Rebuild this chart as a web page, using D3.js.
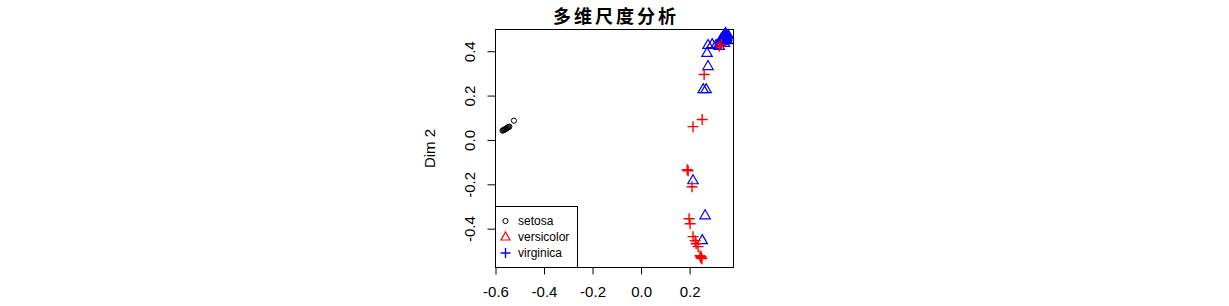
<!DOCTYPE html>
<html>
<head>
<meta charset="utf-8">
<script src="https://cdn.jsdelivr.net/npm/d3@7/dist/d3.min.js"></script>
<style>
  body { margin: 0; background: #fff; }
  svg text { font-family: "Liberation Sans", Arial, sans-serif; }
</style>
</head>
<body>
<div id="chart"></div>
<script>
// MDS coordinates
const species = ['setosa', 'versicolor', 'virginica'];
const legendColors = ['#000000', '#ff0000', '#0000ff'];

const setosaX = [-0.571, -0.568, -0.565, -0.562, -0.559, -0.556, -0.553, -0.550, -0.547, -0.543, -0.524];
const setosaY = [0.042, 0.044, 0.046, 0.047, 0.049, 0.051, 0.053, 0.056, 0.058, 0.060, 0.087];

// triangles (drawn blue)
const triX = [0.334, 0.342, 0.346, 0.351, 0.355, 0.338, 0.326, 0.359, 0.330, 0.349, 0.344, 0.353,
              0.348, 0.356, 0.340, 0.352,
              0.276, 0.293, 0.309, 0.322, 0.272, 0.276, 0.256, 0.268, 0.214, 0.264, 0.252];
const triY = [0.457, 0.462, 0.466, 0.457, 0.448, 0.444, 0.439, 0.471, 0.453, 0.475, 0.435, 0.462,
              0.480, 0.470, 0.468, 0.452,
              0.426, 0.430, 0.426, 0.422, 0.390, 0.331, 0.227, 0.227, -0.184, -0.342, -0.454];

// crosses (drawn red)
const crossX = [0.322, 0.330, 0.260, 0.252, 0.214, 0.190, 0.194, 0.210, 0.198, 0.202,
                0.214, 0.223, 0.227, 0.235, 0.243, 0.247, 0.247, 0.251];
const crossY = [0.422, 0.430, 0.295, 0.092, 0.060, -0.134, -0.139, -0.211, -0.355, -0.378,
                -0.436, -0.454, -0.468, -0.481, -0.522, -0.526, -0.531, -0.535];

const xTicks = [-0.6, -0.4, -0.2, 0.0, 0.2];
const yTicks = [-0.4, -0.2, 0.0, 0.2, 0.4];
const xLim = [-0.6, 0.381];
const yLim = [-0.575, 0.498];

const width = 1229, height = 306;
const plot = {left: 495.5, right: 733.5, top: 29.5, bottom: 267.5};

let svg = d3.select('#chart').append('svg')
    .attr('width', width).attr('height', height);

let x = d3.scaleLinear().domain(xLim).range([plot.left, plot.right]);
let y = d3.scaleLinear().domain(yLim).range([plot.bottom, plot.top]);

// title
svg.append('text')
    .attr('x', (plot.left + plot.right) / 2 + 1.5).attr('y', 23)
    .attr('text-anchor', 'middle')
    .style('font-family', '"Noto Sans CJK SC", sans-serif')
    .style('font-weight', 'bold').style('font-size', '18px')
    .style('letter-spacing', '3px')
    .text('多维尺度分析');

// axes
let xAxis = svg.append('g')
    .attr('transform', `translate(0,${plot.bottom})`)
    .call(d3.axisBottom(x).tickValues(xTicks).tickFormat(d3.format('.1f')).tickSizeOuter(0).tickSize(7).tickPadding(12));
let yAxis = svg.append('g')
    .attr('transform', `translate(${plot.left},0)`)
    .call(d3.axisLeft(y).tickValues(yTicks).tickFormat(d3.format('.1f')).tickSizeOuter(0).tickSize(8));

[xAxis, yAxis].forEach(a => {
    a.select('.domain').remove();
    a.selectAll('line').attr('stroke', '#000');
    a.selectAll('text').style('font-size', '15px').attr('fill', '#000');
});
xAxis.selectAll('text').text(d => d3.format('.1f')(d).replace('−', '-'));
yAxis.selectAll('text')
    .text(d => d3.format('.1f')(d).replace('−', '-'))
    .attr('text-anchor', 'middle')
    .attr('dy', null).attr('x', null)
    .attr('transform', d => `translate(-21,0) rotate(-90)`);

// axis lines spanning first to last tick
svg.append('line')
    .attr('x1', x(xTicks[0])).attr('x2', x(xTicks[xTicks.length - 1]))
    .attr('y1', plot.bottom).attr('y2', plot.bottom).attr('stroke', '#000');
svg.append('line')
    .attr('y1', y(yTicks[0])).attr('y2', y(yTicks[yTicks.length - 1]))
    .attr('x1', plot.left).attr('x2', plot.left).attr('stroke', '#000');

// y label
svg.append('text')
    .attr('transform', `translate(435,${(plot.top + plot.bottom) / 2}) rotate(-90)`)
    .attr('text-anchor', 'middle')
    .style('font-size', '15px')
    .text('Dim 2');

// box
svg.append('rect')
    .attr('x', plot.left).attr('y', plot.top)
    .attr('width', plot.right - plot.left).attr('height', plot.bottom - plot.top)
    .attr('fill', 'none').attr('stroke', '#000');

let pts = svg.append('g');

// setosa circles
pts.selectAll('.setosa')
    .data(d3.zip(setosaX, setosaY))
    .enter().append('circle')
    .attr('cx', d => x(d[0])).attr('cy', d => y(d[1]))
    .attr('r', 2.6).attr('fill', 'none').attr('stroke', '#000');

const triPath = 'M0,-6L5.2,3L-5.2,3Z';
const crossPath = 'M-5.5,0H5.5M0,-5.5V5.5';

pts.selectAll('.tri')
    .data(d3.zip(triX, triY))
    .enter().append('path')
    .attr('transform', d => `translate(${x(d[0])},${y(d[1])})`)
    .attr('d', triPath).attr('fill', 'none').attr('stroke', '#0000ff').attr('stroke-width', 1.2);

pts.selectAll('.cross')
    .data(d3.zip(crossX, crossY))
    .enter().append('path')
    .attr('transform', d => `translate(${x(d[0])},${y(d[1])})`)
    .attr('d', crossPath).attr('fill', 'none').attr('stroke', '#ff0000').attr('stroke-width', 1.4);

// legend
let lg = svg.append('g');
lg.append('rect')
    .attr('x', plot.left).attr('y', 206.5)
    .attr('width', 82).attr('height', plot.bottom - 206.5)
    .attr('fill', '#fff').attr('stroke', '#000');

const legendShapes = [
    g => g.append('circle').attr('r', 2.6).attr('fill', 'none').attr('stroke', legendColors[0]),
    g => g.append('path').attr('d', 'M0,-5L4.5,3L-4.5,3Z').attr('fill', 'none').attr('stroke', legendColors[1]).attr('stroke-width', 1.2),
    g => g.append('path').attr('d', 'M-5,0H5M0,-5V5').attr('stroke', legendColors[2]).attr('stroke-width', 1.4)
];
species.forEach((s, i) => {
    let row = lg.append('g').attr('transform', `translate(505.5,${221 + i * 16})`);
    legendShapes[i](row);
    row.append('text').attr('x', 12.5).attr('dy', '0.35em')
        .style('font-size', '12px').text(s);
});
</script>
</body>
</html>
